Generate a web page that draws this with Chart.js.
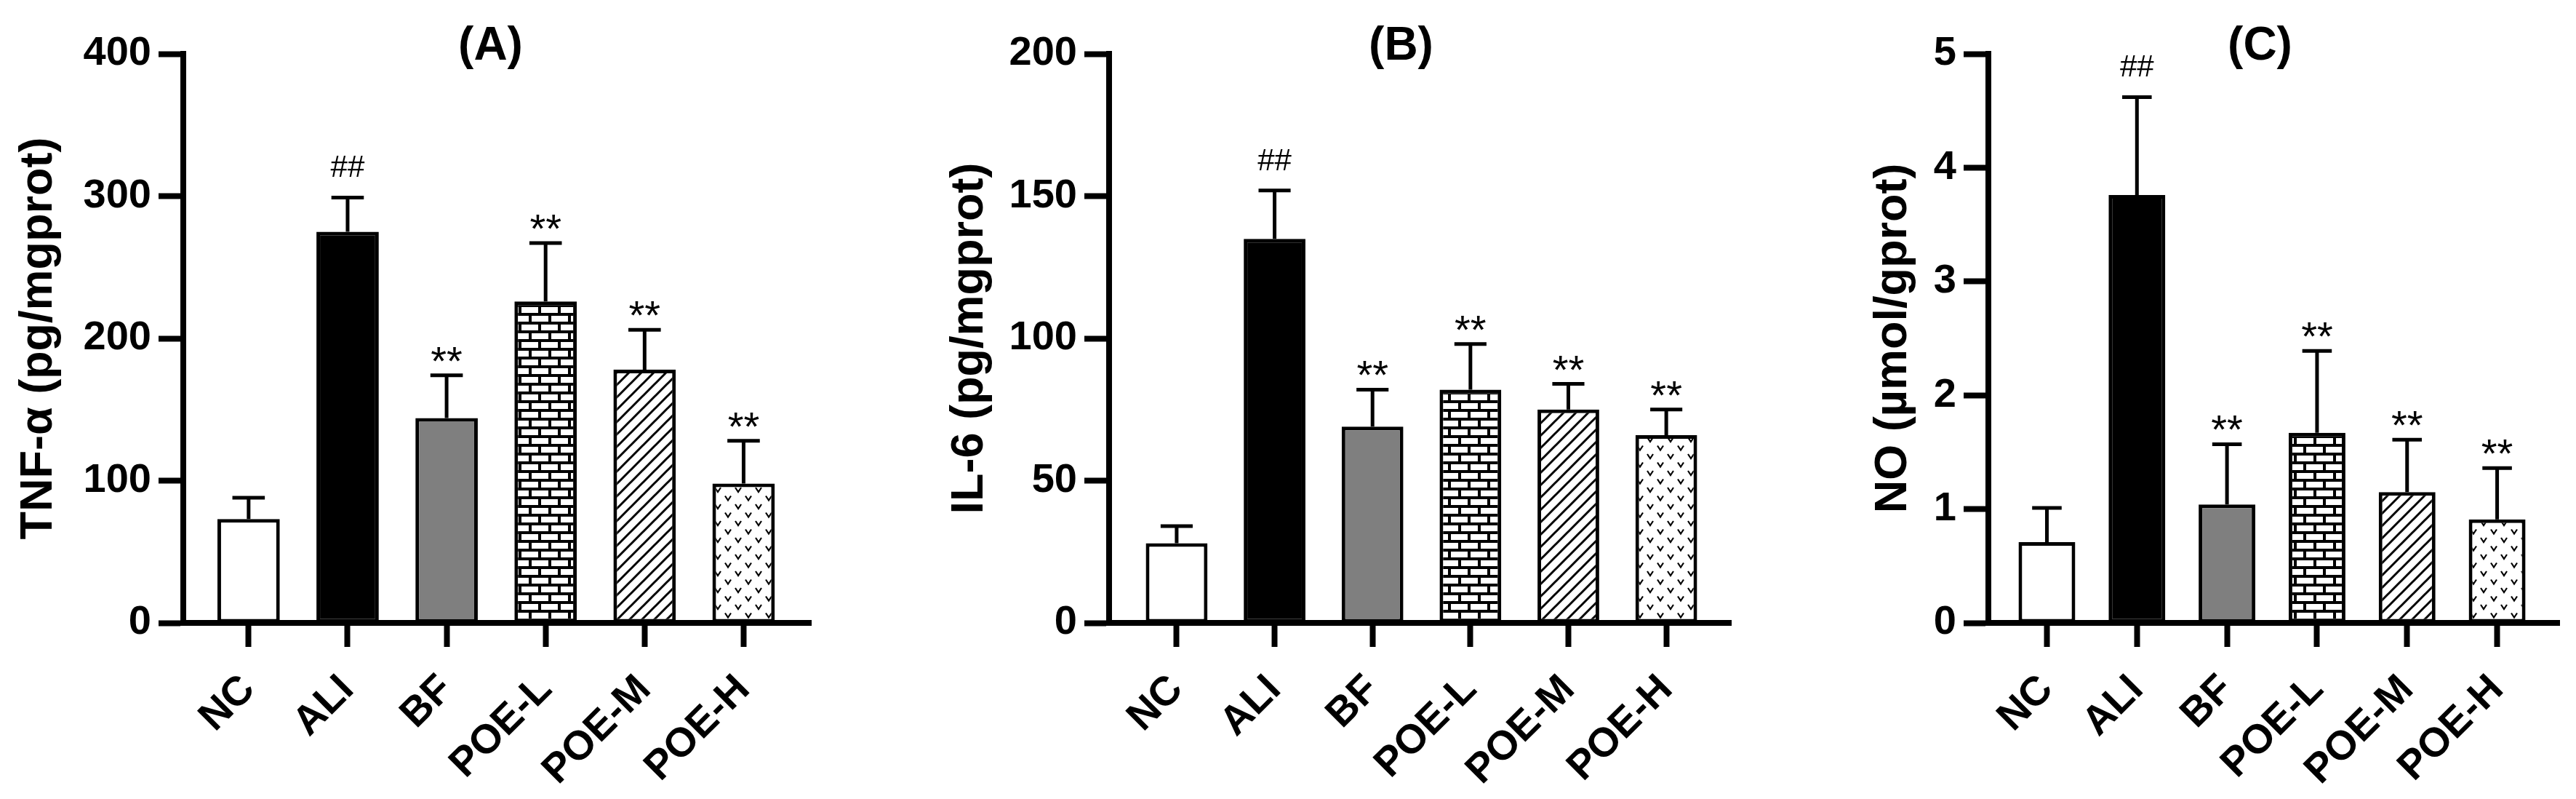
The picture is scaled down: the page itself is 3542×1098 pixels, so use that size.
<!DOCTYPE html>
<html>
<head>
<meta charset="utf-8">
<script src="https://cdn.jsdelivr.net/npm/chart.js@4.4.1/dist/chart.umd.min.js"></script>
<style>
  body { margin: 0; background: #fff; }
  .panel { position: absolute; top: 0; height: 1098px; }
</style>
</head>
<body>
<div class="panel" style="left:0;width:1170px"><canvas id="chartA"></canvas></div>
<div class="panel" style="left:1170px;width:1230px"><canvas id="chartB"></canvas></div>
<div class="panel" style="left:2400px;width:1142px"><canvas id="chartC"></canvas></div>
<script>
// groups and values (mean, SD shown as upper error bar)
var groups = ['NC', 'ALI', 'BF', 'POE-L', 'POE-M', 'POE-H'];
var marks = ['', '##', '**', '**', '**', '**'];

var tnfMean = [73, 275, 144, 226, 178, 98];
var tnfSd = [15, 24, 30, 41, 28, 30];
var tnfTicks = [0, 100, 200, 300, 400];

var il6Mean = [28, 135, 69, 82, 75, 66];
var il6Sd = [6, 17, 13, 16, 9, 9];
var il6Ticks = [0, 50, 100, 150, 200];

var noMean = [0.71, 3.76, 1.04, 1.67, 1.15, 0.91];
var noSd = [0.30, 0.86, 0.53, 0.72, 0.46, 0.45];
var noTicks = [0, 1, 2, 3, 4, 5];

var FONT = "'Liberation Sans', Arial, Helvetica, sans-serif";

//********** FILL PATTERNS ***********

function makeTile(w, h, draw) {
    var c = document.createElement('canvas');
    c.width = w;
    c.height = h;
    var g = c.getContext('2d');
    draw(g);
    return g.createPattern(c, 'repeat');
}

// white bricks on black
var brick = makeTile(27, 24, function(g) {
    g.fillStyle = '#000';
    g.fillRect(0, 0, 27, 24);
    g.fillStyle = '#fff';
    g.fillRect(2, 2, 23, 8);
    g.fillRect(15, 14, 23, 8);
    g.fillRect(-12, 14, 23, 8);
});

// "/" hatching
var hatch = makeTile(17, 17, function(g) {
    g.fillStyle = '#fff';
    g.fillRect(0, 0, 17, 17);
    g.strokeStyle = '#000';
    g.lineWidth = 3;
    g.beginPath();
    g.moveTo(0, 17); g.lineTo(17, 0);
    g.moveTo(-2, 2); g.lineTo(2, -2);
    g.moveTo(15, 19); g.lineTo(19, 15);
    g.stroke();
});

// small "v" marks
var vees = makeTile(28, 23, function(g) {
    g.fillStyle = '#fff';
    g.fillRect(0, 0, 28, 23);
    g.strokeStyle = '#000';
    g.lineWidth = 2.2;
    [[7, 6], [21, 17.5]].forEach(function(p) {
        g.beginPath();
        g.moveTo(p[0] - 4, p[1] - 3);
        g.lineTo(p[0], p[1] + 3);
        g.lineTo(p[0] + 4, p[1] - 3);
        g.stroke();
    });
});

var fills = ['#ffffff', '#000000', '#7f7f7f', brick, hatch, vees];

//********** ERROR BARS, MARKS, PANEL TITLE ***********

var errorBars = {
    id: 'errorBars',
    afterDatasetsDraw: function(chart, args, opts) {
        var ctx = chart.ctx;
        var y = chart.scales.y;
        var area = chart.chartArea;
        ctx.save();
        ctx.strokeStyle = '#000';
        ctx.fillStyle = '#000';
        ctx.lineWidth = 5;
        ctx.textAlign = 'center';
        ctx.textBaseline = 'alphabetic';
        chart.getDatasetMeta(0).data.forEach(function(bar, i) {
            var top = y.getPixelForValue(opts.mean[i] + opts.sd[i]);
            var half = bar.width * 0.26;
            ctx.beginPath();
            ctx.moveTo(bar.x, bar.y);
            ctx.lineTo(bar.x, top);
            ctx.moveTo(bar.x - half, top);
            ctx.lineTo(bar.x + half, top);
            ctx.stroke();
            if (marks[i] == '##') {
                ctx.font = '42px ' + FONT;
                ctx.fillText(marks[i], bar.x, top - 28);
            } else if (marks[i]) {
                ctx.font = '56px ' + FONT;
                ctx.fillText(marks[i], bar.x, top - 1);
            }
        });
        ctx.font = 'bold 64px ' + FONT;
        ctx.fillText(opts.title, (area.left + area.right) / 2 + opts.shift, 82);
        ctx.restore();
    }
};

function makeChart(id, p) {
    var ctx = document.getElementById(id).getContext('2d');
    return new Chart(ctx, {
        type: 'bar',
        data: {
            datasets: [{
                data: p.mean.map(function(v, i) { return { x: i, y: v }; }),
                backgroundColor: fills,
                borderColor: '#000',
                borderWidth: 5,
                borderSkipped: false,
                barPercentage: 0.63,
                categoryPercentage: 1
            }]
        },
        plugins: [errorBars],
        options: {
            responsive: true,
            maintainAspectRatio: false,
            animation: false,
            devicePixelRatio: 1,
            layout: { padding: { left: 0, right: p.padRight, top: 74, bottom: 0 } },
            plugins: {
                legend: { display: false },
                tooltip: { enabled: false },
                errorBars: { mean: p.mean, sd: p.sd, title: p.title, shift: p.shift }
            },
            scales: {
                x: {
                    type: 'linear',
                    min: p.xMin,
                    max: p.xMax,
                    offset: false,
                    afterBuildTicks: function(s) {
                        s.ticks = groups.map(function(g, i) { return { value: i }; });
                    },
                    afterFit: function(s) { s.height = 242; },
                    border: { display: true, color: '#000', width: 8 },
                    grid: { offset: false, drawOnChartArea: false, tickLength: 33, tickWidth: 8, tickColor: '#000' },
                    ticks: {
                        color: '#000',
                        autoSkip: false,
                        maxRotation: 45,
                        minRotation: 45,
                        padding: 26,
                        font: { family: FONT, size: 56, weight: 'bold' },
                        callback: function(v) { return groups[v]; }
                    }
                },
                y: {
                    min: 0,
                    max: p.ticks[p.ticks.length - 1],
                    afterBuildTicks: function(s) {
                        s.ticks = p.ticks.map(function(v) { return { value: v }; });
                    },
                    afterFit: function(s) { s.width = p.yWidth; },
                    border: { display: true, color: '#000', width: 8 },
                    grid: { drawOnChartArea: false, tickLength: 34, tickWidth: 8, tickColor: '#000' },
                    ticks: {
                        color: '#000',
                        padding: 10,
                        font: { family: FONT, size: 56, weight: 'bold' }
                    },
                    title: {
                        display: true,
                        text: p.label,
                        color: '#000',
                        padding: { top: p.titlePad, bottom: 0 },
                        font: { family: FONT, size: 63, weight: 'bold' }
                    }
                }
            }
        }
    });
}

makeChart('chartA', {
    mean: tnfMean, sd: tnfSd, ticks: tnfTicks, label: 'TNF-α (pg/mgprot)', title: '(A)',
    yWidth: 252, padRight: 55, titlePad: 16, xMin: -0.66, xMax: 5.68, shift: -9
});
makeChart('chartB', {
    mean: il6Mean, sd: il6Sd, ticks: il6Ticks, label: 'IL-6 (pg/mgprot)', title: '(B)',
    yWidth: 355, padRight: 20, titlePad: 126, xMin: -0.69, xMax: 5.66, shift: -26
});
makeChart('chartC', {
    mean: noMean, sd: noSd, ticks: noTicks, label: 'NO (µmol/gprot)', title: '(C)',
    yWidth: 334, padRight: 23, titlePad: 166, xMin: -0.65, xMax: 5.69, shift: -19
});
</script>
</body>
</html>
